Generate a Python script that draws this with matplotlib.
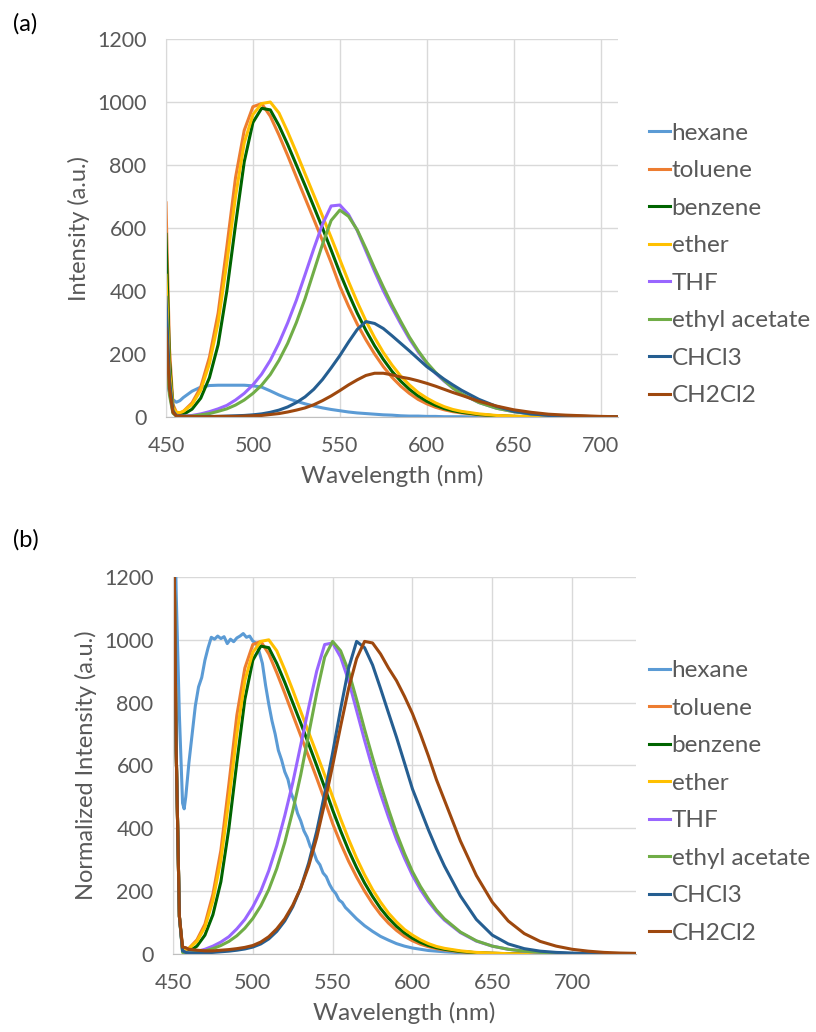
# emission spectra of the dye in different solvents: (a) raw, (b) normalized
import matplotlib
matplotlib.use('Agg')
import matplotlib.pyplot as plt

plt.rcParams['font.family'] = ['Lato', 'DejaVu Sans']

# wavelength grid (nm) shared by most series
wavelength = [450, 452, 454, 456, 458, 460, 465, 470, 475, 480,
              485, 490, 495, 500, 505, 510, 515, 520, 525, 530,
              535, 540, 545, 550, 555, 560, 565, 570, 575, 580,
              585, 590, 595, 600, 605, 610, 615, 620, 630, 640,
              650, 660, 670, 680, 690, 700, 710, 720, 730, 740]

# finer grid for the noisy normalized hexane trace
hexane_wavelength = [450, 452, 454, 456, 457, 458,
                     460, 462, 464, 466, 468, 470, 472, 474, 476, 478,
                     480, 482, 484, 486, 488, 490, 492, 494, 496, 498,
                     500, 502, 504, 506, 508, 510, 512, 514, 516, 518,
                     520, 522, 524, 526, 528, 530, 532, 534, 536, 538,
                     540, 542, 544, 546, 548, 550, 552, 554, 556, 558, 560,
                     565, 570, 575, 580, 585, 590, 595, 600, 605, 610, 615, 620,
                     630, 640, 650, 660, 670, 680, 690, 700, 710, 720, 730, 740]

solvents = ['hexane', 'toluene', 'benzene', 'ether', 'THF',
            'ethyl acetate', 'CHCl3', 'CH2Cl2']
colors = ['#5B9BD5', '#ED7D31', '#006400', '#FFC000', '#9966FF',
          '#70AD47', '#255E91', '#9E480E']

# (a) intensity, a.u.
a_hexane = [120, 80, 55, 47, 52, 62, 82, 95, 100, 101, 101, 101, 101, 99, 95, 83,
            70, 59, 50, 42, 35, 29, 24, 20, 16, 13, 11, 9, 7, 6, 4, 3, 3, 2, 2, 1,
            1, 1, 0, 0, 0, 0, 0, 0, 0, 0, 0, 0, 0, 0]
a_toluene = [680, 220, 40, 15, 12, 18, 45, 95, 190, 330, 540, 760, 910, 985, 995,
             955, 895, 830, 762, 695, 628, 560, 490, 415, 352, 295, 245, 200, 160,
             126, 98, 75, 56, 42, 31, 23, 17, 13, 7, 4, 2, 1, 0, 0, 0, 0, 0, 0, 0, 0]
a_benzene = [580, 180, 30, 8, 5, 8, 25, 60, 125, 230, 400, 610, 810, 935, 980, 975,
             925, 865, 800, 735, 668, 600, 530, 458, 392, 330, 275, 226, 183, 145,
             114, 88, 67, 50, 37, 27, 20, 15, 8, 4, 2, 1, 0, 0, 0, 0, 0, 0, 0, 0]
a_ether = [450, 150, 30, 15, 14, 18, 40, 85, 170, 300, 490, 700, 870, 960, 995,
           1000, 965, 905, 840, 772, 705, 638, 570, 500, 430, 365, 305, 252, 205,
           165, 130, 102, 78, 60, 45, 33, 24, 18, 10, 5, 3, 1, 0, 0, 0, 0, 0, 0, 0, 0]
a_thf = [250, 80, 15, 5, 3, 3, 5, 10, 17, 26, 37, 54, 75, 102, 136, 180, 235, 299,
         371, 452, 534, 612, 670, 673, 643, 592, 527, 462, 401, 347, 296, 248, 207,
         170, 139, 114, 92, 73, 46, 28, 17, 10, 6, 3, 2, 1, 0, 0, 0, 0]
a_ethyl_acetate = [200, 70, 12, 3, 2, 2, 3, 7, 11, 18, 26, 38, 54, 75, 101, 135, 180,
                   234, 300, 376, 462, 548, 624, 657, 637, 594, 535, 472, 413, 356,
                   304, 254, 211, 173, 142, 116, 92, 74, 46, 28, 17, 10, 6, 3, 2, 1,
                   0, 0, 0, 0]
a_chcl3 = [380, 120, 20, 3, 2, 1, 1, 1, 2, 2, 3, 4, 5, 7, 10, 15, 22, 32, 46, 64,
           88, 119, 156, 195, 238, 278, 303, 297, 281, 258, 234, 210, 185, 160, 140,
           120, 102, 85, 56, 34, 18, 10, 5, 3, 2, 1, 0, 0, 0, 0]
a_ch2cl2 = [280, 90, 15, 3, 3, 2, 2, 1, 1, 2, 2, 2, 3, 4, 5, 8, 11, 16, 22, 29, 39,
            52, 67, 84, 102, 118, 132, 139, 139, 134, 127, 122, 115, 107, 98, 88,
            78, 69, 50, 35, 23, 15, 9, 6, 4, 2, 1, 1, 0, 0]

# (b) normalized intensity, a.u.
b_hexane = [1700, 1150, 760, 480, 462, 500,
            610, 700, 790, 850, 880, 935, 975, 1008, 1002, 1012,
            1004, 1010, 988, 1002, 994, 1006, 1012, 1020, 1008, 1012,
            996, 990, 962, 925, 855, 795, 742, 700, 648, 618,
            580, 556, 512, 486, 448, 424, 392, 372, 342, 326,
            298, 284, 258, 246, 222, 204, 192, 172, 164, 148, 138,
            112, 90, 72, 56, 44, 33, 25, 19, 15, 11, 9, 7,
            4, 3, 2, 1, 1, 0, 0, 0, 0, 0, 0, 0]
b_toluene = [1600, 650, 120, 18, 12, 18, 45, 95, 190, 330, 540, 760, 910, 985, 995,
             955, 895, 830, 762, 695, 628, 560, 490, 415, 352, 295, 245, 200, 160,
             126, 98, 75, 56, 42, 31, 23, 17, 13, 7, 4, 2, 1, 0, 0, 0, 0, 0, 0, 0, 0]
b_benzene = [1600, 650, 120, 12, 5, 8, 25, 60, 125, 230, 400, 610, 810, 935, 980,
             975, 925, 865, 800, 735, 668, 600, 530, 458, 392, 330, 275, 226, 183,
             145, 114, 88, 67, 50, 37, 27, 20, 15, 8, 4, 2, 1, 0, 0, 0, 0, 0, 0, 0, 0]
b_ether = [1600, 650, 120, 18, 14, 18, 40, 85, 170, 300, 490, 700, 870, 960, 995,
           1000, 965, 905, 840, 772, 705, 638, 570, 500, 430, 365, 305, 252, 205,
           165, 130, 102, 78, 60, 45, 33, 24, 18, 10, 5, 3, 1, 0, 0, 0, 0, 0, 0, 0, 0]
b_thf = [1600, 650, 120, 10, 5, 5, 8, 15, 25, 38, 55, 80, 110, 150, 200, 265, 345,
         440, 545, 665, 785, 900, 985, 990, 945, 870, 775, 680, 590, 510, 435, 365,
         305, 250, 205, 167, 135, 108, 68, 41, 25, 15, 9, 5, 3, 1, 0, 0, 0, 0]
b_ethyl_acetate = [1600, 650, 120, 5, 3, 3, 5, 10, 17, 27, 40, 58, 82, 113, 153, 205,
                   272, 355, 455, 570, 700, 830, 945, 995, 965, 900, 810, 715, 625,
                   540, 460, 385, 320, 262, 215, 175, 140, 112, 70, 42, 25, 15, 9, 5,
                   3, 1, 0, 0, 0, 0]
b_chcl3 = [1600, 650, 120, 10, 5, 3, 3, 4, 5, 7, 9, 12, 16, 22, 32, 48, 72, 105,
           150, 210, 290, 390, 510, 640, 780, 910, 995, 975, 920, 845, 767, 690, 608,
           525, 460, 395, 335, 280, 185, 110, 60, 32, 17, 9, 5, 3, 1, 0, 0, 0]
b_ch2cl2 = [1600, 650, 120, 22, 20, 15, 12, 10, 10, 12, 14, 17, 21, 27, 38, 55, 80,
            112, 155, 210, 280, 370, 480, 600, 725, 845, 940, 995, 990, 955, 910, 870,
            820, 765, 700, 630, 555, 490, 360, 250, 165, 105, 65, 40, 25, 15, 9, 5,
            3, 2]

panel_a = [(wavelength, a_hexane), (wavelength, a_toluene),
           (wavelength, a_benzene), (wavelength, a_ether),
           (wavelength, a_thf), (wavelength, a_ethyl_acetate),
           (wavelength, a_chcl3), (wavelength, a_ch2cl2)]
panel_b = [(hexane_wavelength, b_hexane), (wavelength, b_toluene),
           (wavelength, b_benzene), (wavelength, b_ether),
           (wavelength, b_thf), (wavelength, b_ethyl_acetate),
           (wavelength, b_chcl3), (wavelength, b_ch2cl2)]

GRAY = '#595959'


def draw_panel(ax, series, xmax, ylabel, legend_y):
    for name, color, (x, y) in zip(solvents, colors, series):
        ax.plot(x, y, color=color, lw=2.2, label=name, solid_joinstyle='round')
    ax.set_xlim(450, xmax)
    ax.set_ylim(0, 1200)
    ax.set_xticks(range(450, 701, 50))
    ax.set_yticks(range(0, 1201, 200))
    ax.grid(True, color='#D9D9D9', lw=1)
    ax.set_axisbelow(True)
    for side in ('top', 'right'):
        ax.spines[side].set_visible(False)
    ax.spines['left'].set_color('#D9D9D9')
    ax.spines['bottom'].set_color('#BFBFBF')
    ax.tick_params(length=0, pad=14, labelsize=15.5, colors=GRAY)
    ax.set_xlabel('Wavelength (nm)', fontsize=17.5, color=GRAY, labelpad=6)
    ax.set_ylabel(ylabel, fontsize=17, color=GRAY, labelpad=5)
    ax.legend(loc='center left', bbox_to_anchor=(0.795, legend_y),
              bbox_transform=ax.figure.transFigure, frameon=False,
              fontsize=17.5, labelcolor=GRAY, handlelength=0.86,
              handletextpad=0.08, labelspacing=0.68, borderpad=0,
              borderaxespad=0)


fig = plt.figure(figsize=(8.16, 10.32), dpi=100)
ax_a = fig.add_axes([0.2034, 0.5959, 0.5540, 0.3663])
ax_b = fig.add_axes([0.2120, 0.0756, 0.5674, 0.3653])

draw_panel(ax_a, panel_a, 710, 'Intensity (a.u.)', 0.7437)
draw_panel(ax_b, panel_b, 740, 'Normalized Intensity (a.u.)', 0.2229)

fig.text(0.016, 0.977, '(a)', fontsize=17, va='center', ha='left')
fig.text(0.016, 0.477, '(b)', fontsize=17, va='center', ha='left')

fig.savefig('out.png', dpi=100)
